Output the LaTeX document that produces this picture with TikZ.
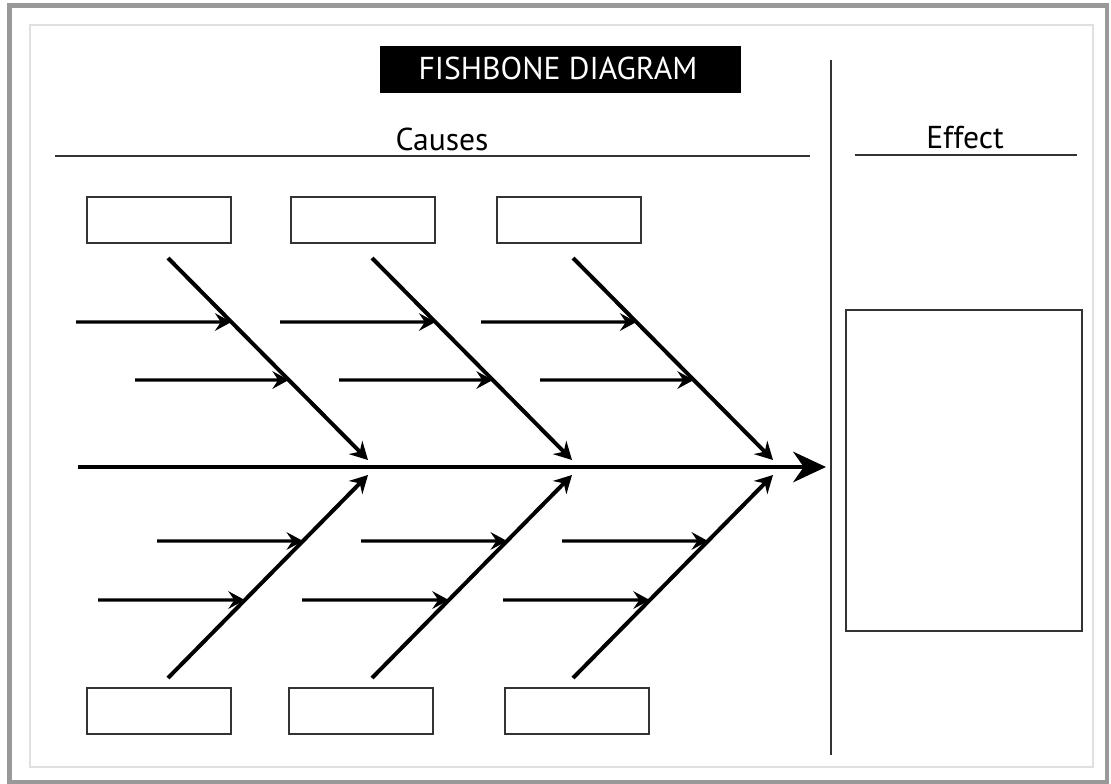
\documentclass[tikz,border=0pt]{standalone}
\usepackage{fontspec}
\setmainfont{PT Sans}
\usetikzlibrary{arrows.meta,calc}

\begin{document}
\begin{tikzpicture}[x=0.03cm,y=-0.03cm,
  thinline/.style={draw=black!80,line width=1.3pt},
  causebox/.style={draw=black!80,line width=1.3pt,minimum width=4.32cm,minimum height=1.38cm,inner sep=0pt},
  bone/.style={line width=3.4pt,-{Stealth[length=15pt,width=16pt,inset=5pt]}},
  twig/.style={line width=2.8pt,-{Stealth[length=14pt,width=15pt,inset=5pt]}},
  spine/.style={line width=3.8pt,-{Stealth[length=28pt,width=26pt,inset=9pt]}}]
  \useasboundingbox (0,0) rectangle (1111,784);
  % frames
  \draw[black!40,line width=4.2pt] (9.5,5.5) rectangle (1107,782);
  \draw[black!12,line width=1.6pt] (30,25) rectangle (1093,767);
  % headings
  \node[fill=black,minimum width=10.83cm,minimum height=1.41cm] (title) at (560.5,69.5) {};
  \node[text=white,font=\fontsize{27}{29}\selectfont,anchor=base] (titletext) at (558,79) {FISHBONE DIAGRAM};
  \node[font=\fontsize{27}{29}\selectfont,anchor=base] (causes) at (442,150) {Causes};
  \node[font=\fontsize{27}{29}\selectfont,anchor=base] (effect) at (965,148) {Effect};
  \coordinate (cl) at (55,156);
  \coordinate (cr) at (810,156);
  \coordinate (el) at (855,155);
  \coordinate (er) at (1077,155);
  \coordinate (divtop) at (831,60);
  \coordinate (divbot) at (831,755);
  \draw[thinline] (cl) -- (cr);
  \draw[thinline] (el) -- (er);
  \draw[thinline] (divtop) -- (divbot);
  % boxes
  \foreach \x/\n in {159/1,363/2,569/3} {
    \node[causebox] (topbox\n) at (\x,220) {};
  }
  \foreach \x/\n in {159/1,361/2,577/3} {
    \node[causebox] (botbox\n) at (\x,711) {};
  }
  \node[causebox,minimum width=7.08cm,minimum height=9.63cm] (effectbox) at (964,470.5) {};
  % spine
  \coordinate (tail) at (78,467);
  \coordinate (head) at (826,467);
  \draw[spine] (tail) -- (head);
  % bones and twigs
  \foreach \sx/\n in {168/1,372/2,573/3} {
    \coordinate (ts\n) at (\sx,258);
    \coordinate (te\n) at (\sx+200,460);
    \coordinate (bs\n) at (\sx,678);
    \coordinate (be\n) at (\sx+200,475);
    \draw[bone] (ts\n) -- (te\n);
    \draw[bone] (bs\n) -- (be\n);
    \coordinate (ta\n) at (\sx-92,322);
    \coordinate (tb\n) at (\sx-33,380);
    \coordinate (ba\n) at (\sx-11,541);
    \coordinate (bb\n) at (\sx-70,600);
    \draw[twig] (ta\n) -- ($(ts\n)!0.317!(te\n)$);
    \draw[twig] (tb\n) -- ($(ts\n)!0.604!(te\n)$);
    \draw[twig] (ba\n) -- ($(bs\n)!0.675!(be\n)$);
    \draw[twig] (bb\n) -- ($(bs\n)!0.384!(be\n)$);
  }
\end{tikzpicture}
\end{document}
